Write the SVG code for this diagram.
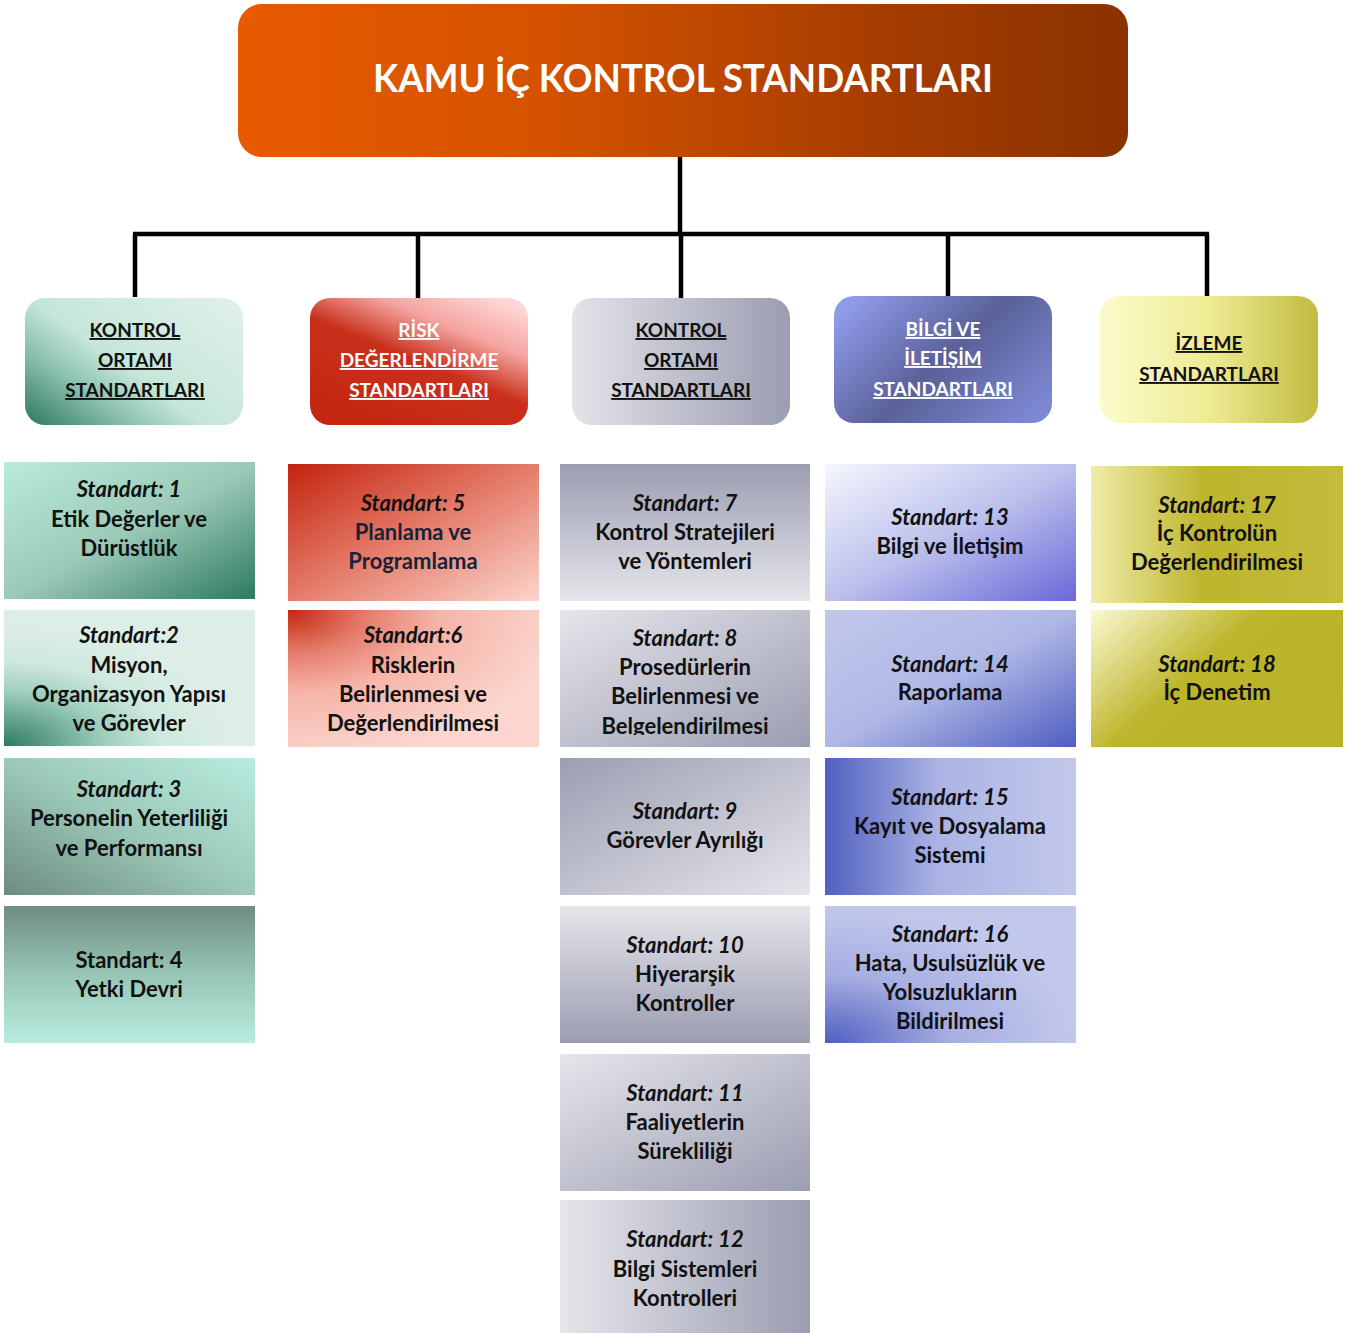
<svg xmlns="http://www.w3.org/2000/svg" width="1358" height="1333" viewBox="0 0 1358 1333">
  <defs>
    <style>
      text { font-family: Lato, "Liberation Sans", sans-serif; font-weight: 700; text-anchor: middle; }
      .t { font-size: 22px; fill: #111; }
      .n { font-style: italic; }
      .navy { fill: #16233a; }
      .cat { font-size: 19px; text-decoration: underline; }
      .dark { fill: #111; }
      .light { fill: #fff; }
      .wire { stroke: #000; stroke-width: 4.5; fill: none; }
    </style>
    <!-- header -->
    <linearGradient id="gHead" x1="0" y1="0" x2="1" y2="0">
      <stop offset="0" stop-color="#e85a00"/>
      <stop offset="0.35" stop-color="#d45200"/>
      <stop offset="0.75" stop-color="#a33b00"/>
      <stop offset="1" stop-color="#8b3200"/>
    </linearGradient>
    <!-- category boxes -->
    <linearGradient id="gCat1" x1="0" y1="1" x2="1" y2="0.2">
      <stop offset="0" stop-color="#2c775e"/>
      <stop offset="0.3" stop-color="#8cc2ad"/>
      <stop offset="0.5" stop-color="#c5e6d8"/>
      <stop offset="1" stop-color="#ddefe8"/>
    </linearGradient>
    <linearGradient id="gCat2" x1="0.15" y1="1" x2="0.85" y2="0">
      <stop offset="0" stop-color="#c4260f"/>
      <stop offset="0.5" stop-color="#c8301b"/>
      <stop offset="0.75" stop-color="#f4a4a0"/>
      <stop offset="1" stop-color="#ffd6d6"/>
    </linearGradient>
    <linearGradient id="gCat3" x1="0" y1="0" x2="1" y2="0">
      <stop offset="0" stop-color="#e3e3e9"/>
      <stop offset="1" stop-color="#9b9db1"/>
    </linearGradient>
    <linearGradient id="gCat4" x1="0" y1="0.2" x2="1" y2="0.8">
      <stop offset="0" stop-color="#8f9ae9"/>
      <stop offset="0.5" stop-color="#5a6198"/>
      <stop offset="1" stop-color="#7c88d4"/>
    </linearGradient>
    <linearGradient id="gCat5" x1="0" y1="0" x2="1" y2="0">
      <stop offset="0" stop-color="#fbfccb"/>
      <stop offset="0.5" stop-color="#eeeb95"/>
      <stop offset="1" stop-color="#c2bb3e"/>
    </linearGradient>
    <!-- green column -->
    <linearGradient id="gS1" x1="0" y1="0" x2="1" y2="1">
      <stop offset="0" stop-color="#b9eadc"/>
      <stop offset="0.5" stop-color="#9ccab8"/>
      <stop offset="1" stop-color="#2d7a61"/>
    </linearGradient>
    <radialGradient id="gS2" cx="0" cy="1" r="0.9" fx="0" fy="1">
      <stop offset="0" stop-color="#2e7a62"/>
      <stop offset="0.45" stop-color="#9fcfbd"/>
      <stop offset="0.7" stop-color="#cfe9de"/>
      <stop offset="1" stop-color="#ddeee7"/>
    </radialGradient>
    <linearGradient id="gS3" x1="0" y1="1" x2="1" y2="0">
      <stop offset="0" stop-color="#6d8c7f"/>
      <stop offset="0.5" stop-color="#9cc9b9"/>
      <stop offset="1" stop-color="#b8ecdf"/>
    </linearGradient>
    <linearGradient id="gS4" x1="0" y1="0" x2="0" y2="1">
      <stop offset="0" stop-color="#6e8d81"/>
      <stop offset="0.5" stop-color="#98c5b5"/>
      <stop offset="1" stop-color="#b7ecde"/>
    </linearGradient>
    <!-- red column -->
    <linearGradient id="gS5" x1="0" y1="0" x2="1" y2="1">
      <stop offset="0" stop-color="#c3230e"/>
      <stop offset="0.5" stop-color="#e57c6a"/>
      <stop offset="1" stop-color="#fbd5cc"/>
    </linearGradient>
    <radialGradient id="gS6" cx="0" cy="0" r="1.1" fx="0" fy="0">
      <stop offset="0" stop-color="#c4260f"/>
      <stop offset="0.3" stop-color="#e68070"/>
      <stop offset="0.55" stop-color="#f6b4a8"/>
      <stop offset="1" stop-color="#fbd6ce"/>
    </radialGradient>
    <!-- gray column -->
    <linearGradient id="gGrayDown" x1="0" y1="0" x2="0" y2="1">
      <stop offset="0" stop-color="#9b9db1"/>
      <stop offset="1" stop-color="#e5e5eb"/>
    </linearGradient>
    <linearGradient id="gGrayUp" x1="0" y1="0" x2="0" y2="1">
      <stop offset="0" stop-color="#e5e5eb"/>
      <stop offset="1" stop-color="#9b9db1"/>
    </linearGradient>
    <linearGradient id="gGrayDiag" x1="0" y1="0" x2="1" y2="1">
      <stop offset="0" stop-color="#e5e5eb"/>
      <stop offset="1" stop-color="#9b9db1"/>
    </linearGradient>
    <linearGradient id="gGrayDiagR" x1="0" y1="0" x2="1" y2="1">
      <stop offset="0" stop-color="#9c9eb2"/>
      <stop offset="1" stop-color="#e5e5eb"/>
    </linearGradient>
    <linearGradient id="gGrayH" x1="0" y1="0" x2="1" y2="0">
      <stop offset="0" stop-color="#e5e5eb"/>
      <stop offset="1" stop-color="#9b9db1"/>
    </linearGradient>
    <!-- blue column -->
    <linearGradient id="gS13" x1="0" y1="0" x2="1" y2="1">
      <stop offset="0" stop-color="#f5f6fd"/>
      <stop offset="0.5" stop-color="#bcc1ec"/>
      <stop offset="1" stop-color="#6b68d9"/>
    </linearGradient>
    <linearGradient id="gS14" x1="0" y1="0" x2="1" y2="1">
      <stop offset="0" stop-color="#c2c8eb"/>
      <stop offset="0.5" stop-color="#b0b8e6"/>
      <stop offset="1" stop-color="#4f5ec0"/>
    </linearGradient>
    <linearGradient id="gS15" x1="0" y1="0" x2="1" y2="0">
      <stop offset="0" stop-color="#5060c0"/>
      <stop offset="0.45" stop-color="#abb3e4"/>
      <stop offset="1" stop-color="#c2c8eb"/>
    </linearGradient>
    <radialGradient id="gS16" cx="0" cy="1" r="1" fx="0" fy="1">
      <stop offset="0" stop-color="#4f5ec0"/>
      <stop offset="0.5" stop-color="#a6aee2"/>
      <stop offset="1" stop-color="#c2c8eb"/>
    </radialGradient>
    <!-- yellow column -->
    <linearGradient id="gS17" x1="0" y1="0" x2="1" y2="0">
      <stop offset="0" stop-color="#f0eca8"/>
      <stop offset="0.45" stop-color="#bdb52c"/>
      <stop offset="1" stop-color="#c3bb3c"/>
    </linearGradient>
    <linearGradient id="gS18" x1="0" y1="0" x2="1" y2="0.6">
      <stop offset="0" stop-color="#fbfad2"/>
      <stop offset="0.5" stop-color="#bdb52c"/>
      <stop offset="1" stop-color="#bab228"/>
    </linearGradient>
    <clipPath id="clip8">
      <rect x="560" y="610" width="250" height="125"/>
    </clipPath>
  </defs>

  <rect width="1358" height="1333" fill="#fff"/>

  <!-- tree lines -->
  <g id="connectors">
    <path class="wire" d="M680 157V234"/>
    <path class="wire" d="M133 234H1209"/>
    <path class="wire" d="M135 234V297M418 234V298M681 234V298M948 234V296M1207 234V296"/>
  </g>

  <!-- top node -->
  <g id="root">
    <rect x="238" y="4" width="890" height="153" rx="24" fill="url(#gHead)"/>
    <text x="683" y="92" font-size="38" fill="#fff" textLength="620" lengthAdjust="spacingAndGlyphs">KAMU İÇ KONTROL STANDARTLARI</text>
  </g>

  <!-- category nodes -->
  <g id="cat-kontrol-ortami">
    <rect x="25" y="298" width="218" height="127" rx="20" fill="url(#gCat1)"/>
    <text class="cat dark" x="135" y="337">KONTROL</text>
    <text class="cat dark" x="135" y="367">ORTAMI</text>
    <text class="cat dark" x="135" y="397">STANDARTLARI</text>
  </g>
  <g id="cat-risk">
    <rect x="310" y="298" width="218" height="127" rx="20" fill="url(#gCat2)"/>
    <text class="cat light" x="419" y="337">RİSK</text>
    <text class="cat light" x="419" y="367">DEĞERLENDİRME</text>
    <text class="cat light" x="419" y="397">STANDARTLARI</text>
  </g>
  <g id="cat-kontrol-faaliyetleri">
    <rect x="572" y="298" width="218" height="127" rx="20" fill="url(#gCat3)"/>
    <text class="cat dark" x="681" y="337">KONTROL</text>
    <text class="cat dark" x="681" y="367">ORTAMI</text>
    <text class="cat dark" x="681" y="397">STANDARTLARI</text>
  </g>
  <g id="cat-bilgi">
    <rect x="834" y="296" width="218" height="127" rx="20" fill="url(#gCat4)"/>
    <text class="cat light" x="943" y="336">BİLGİ VE</text>
    <text class="cat light" x="943" y="365">İLETİŞİM</text>
    <text class="cat light" x="943" y="396">STANDARTLARI</text>
  </g>
  <g id="cat-izleme">
    <rect x="1100" y="296" width="218" height="127" rx="20" fill="url(#gCat5)"/>
    <text class="cat dark" x="1209" y="350">İZLEME</text>
    <text class="cat dark" x="1209" y="381">STANDARTLARI</text>
  </g>

  <!-- standard nodes: green column -->
  <g id="std-1">
    <rect x="4" y="462" width="251" height="137" fill="url(#gS1)"/>
    <text class="t n" x="129" y="497">Standart: 1</text>
    <text class="t" x="129" y="527">Etik Değerler ve</text>
    <text class="t" x="129" y="556">Dürüstlük</text>
  </g>
  <g id="std-2">
    <rect x="4" y="610" width="251" height="136" fill="url(#gS2)"/>
    <text class="t n" x="129" y="643">Standart:2</text>
    <text class="t" x="129" y="673">Misyon,</text>
    <text class="t" x="129" y="702">Organizasyon Yapısı</text>
    <text class="t" x="129" y="731">ve Görevler</text>
  </g>
  <g id="std-3">
    <rect x="4" y="758" width="251" height="137" fill="url(#gS3)"/>
    <text class="t n" x="129" y="797">Standart: 3</text>
    <text class="t" x="129" y="826">Personelin Yeterliliği</text>
    <text class="t" x="129" y="856">ve Performansı</text>
  </g>
  <g id="std-4">
    <rect x="4" y="906" width="251" height="137" fill="url(#gS4)"/>
    <text class="t" x="129" y="968">Standart: 4</text>
    <text class="t" x="129" y="997">Yetki Devri</text>
  </g>

  <!-- red column -->
  <g id="std-5">
    <rect x="288" y="464" width="251" height="137" fill="url(#gS5)"/>
    <text class="t n" x="413" y="511">Standart: 5</text>
    <text class="t navy" x="413" y="540">Planlama ve</text>
    <text class="t navy" x="413" y="569">Programlama</text>
  </g>
  <g id="std-6">
    <rect x="288" y="610" width="251" height="137" fill="url(#gS6)"/>
    <text class="t n" x="413" y="643">Standart:6</text>
    <text class="t" x="413" y="673">Risklerin</text>
    <text class="t" x="413" y="702">Belirlenmesi ve</text>
    <text class="t" x="413" y="731">Değerlendirilmesi</text>
  </g>

  <!-- gray column -->
  <g id="std-7">
    <rect x="560" y="464" width="250" height="137" fill="url(#gGrayDown)"/>
    <text class="t n" x="685" y="511">Standart: 7</text>
    <text class="t" x="685" y="540">Kontrol Stratejileri</text>
    <text class="t" x="685" y="569">ve Yöntemleri</text>
  </g>
  <g id="std-8">
    <rect x="560" y="610" width="250" height="137" fill="url(#gGrayDiag)"/>
    <text class="t n" x="685" y="646">Standart: 8</text>
    <text class="t" x="685" y="675">Prosedürlerin</text>
    <text class="t" x="685" y="704">Belirlenmesi ve</text>
    <text class="t" x="685" y="734" clip-path="url(#clip8)">Belgelendirilmesi</text>
  </g>
  <g id="std-9">
    <rect x="560" y="758" width="250" height="137" fill="url(#gGrayDiagR)"/>
    <text class="t n" x="685" y="819">Standart: 9</text>
    <text class="t" x="685" y="848">Görevler Ayrılığı</text>
  </g>
  <g id="std-10">
    <rect x="560" y="906" width="250" height="137" fill="url(#gGrayUp)"/>
    <text class="t n" x="685" y="953">Standart: 10</text>
    <text class="t" x="685" y="982">Hiyerarşik</text>
    <text class="t" x="685" y="1011">Kontroller</text>
  </g>
  <g id="std-11">
    <rect x="560" y="1054" width="250" height="137" fill="url(#gGrayDiag)"/>
    <text class="t n" x="685" y="1101">Standart: 11</text>
    <text class="t" x="685" y="1130">Faaliyetlerin</text>
    <text class="t" x="685" y="1159">Sürekliliği</text>
  </g>
  <g id="std-12">
    <rect x="560" y="1200" width="250" height="133" fill="url(#gGrayH)"/>
    <text class="t n" x="685" y="1247">Standart: 12</text>
    <text class="t" x="685" y="1277">Bilgi Sistemleri</text>
    <text class="t" x="685" y="1306">Kontrolleri</text>
  </g>

  <!-- blue column -->
  <g id="std-13">
    <rect x="825" y="464" width="251" height="137" fill="url(#gS13)"/>
    <text class="t n" x="950" y="525">Standart: 13</text>
    <text class="t" x="950" y="554">Bilgi ve İletişim</text>
  </g>
  <g id="std-14">
    <rect x="825" y="610" width="251" height="137" fill="url(#gS14)"/>
    <text class="t n" x="950" y="672">Standart: 14</text>
    <text class="t" x="950" y="700">Raporlama</text>
  </g>
  <g id="std-15">
    <rect x="825" y="758" width="251" height="137" fill="url(#gS15)"/>
    <text class="t n" x="950" y="805">Standart: 15</text>
    <text class="t" x="950" y="834">Kayıt ve Dosyalama</text>
    <text class="t" x="950" y="863">Sistemi</text>
  </g>
  <g id="std-16">
    <rect x="825" y="906" width="251" height="137" fill="url(#gS16)"/>
    <text class="t n" x="950" y="942">Standart: 16</text>
    <text class="t" x="950" y="971">Hata, Usulsüzlük ve</text>
    <text class="t" x="950" y="1000">Yolsuzlukların</text>
    <text class="t" x="950" y="1029">Bildirilmesi</text>
  </g>

  <!-- yellow column -->
  <g id="std-17">
    <rect x="1091" y="466" width="252" height="137" fill="url(#gS17)"/>
    <text class="t n" x="1217" y="513">Standart: 17</text>
    <text class="t" x="1217" y="541">İç Kontrolün</text>
    <text class="t" x="1217" y="570">Değerlendirilmesi</text>
  </g>
  <g id="std-18">
    <rect x="1091" y="610" width="252" height="137" fill="url(#gS18)"/>
    <text class="t n" x="1217" y="672">Standart: 18</text>
    <text class="t" x="1217" y="700">İç Denetim</text>
  </g>
</svg>
